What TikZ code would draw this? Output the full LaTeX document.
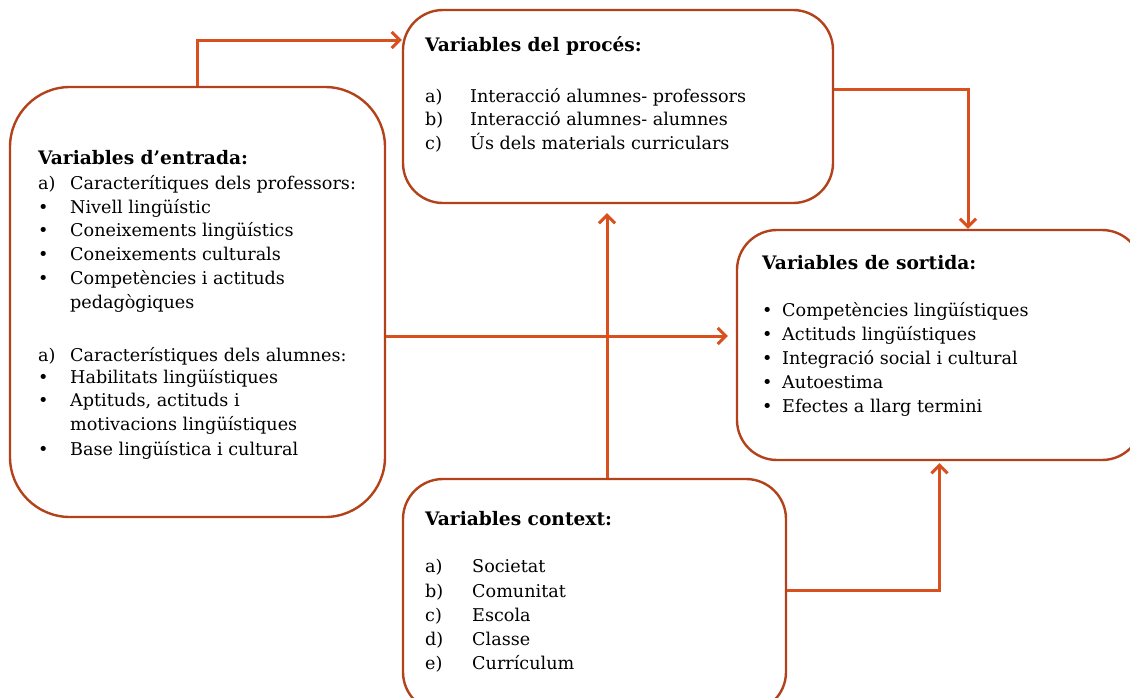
\documentclass[tikz,border=0pt]{standalone}
\usepackage{fontspec}
\setmainfont{DejaVu Serif}
\usetikzlibrary{arrows.meta}
\definecolor{linec}{HTML}{D9501E}
\definecolor{boxc}{HTML}{B3421A}
\begin{document}
\begin{tikzpicture}[x=1pt,y=-1pt,
  box/.style={draw=boxc,line width=2.4pt,rounded corners=#1,inner sep=0pt},
  arr/.style={draw=linec,line width=3pt,-{Straight Barb[length=8pt,width=16pt]}},
  txt/.style={anchor=base west,inner sep=0pt,font=\fontsize{17.6}{20}\selectfont},
  ttl/.style={anchor=base west,inner sep=0pt,font=\fontsize{18.6}{20}\selectfont\bfseries}]
\useasboundingbox (0,0) rectangle (1130,697);
\begin{scope}
\clip (0,0) rectangle (1130,697);
% boxes
\node[box=60pt,minimum width=375pt,minimum height=430pt] (E) at (197.5,302) {};
\node[box=40pt,minimum width=430pt,minimum height=193pt] (P) at (618,106.5) {};
\node[box=40pt,minimum width=405pt,minimum height=230pt] (S) at (939.5,345) {};
\node[box=40pt,minimum width=383pt,minimum height=233pt] (C) at (594.5,595.5) {};
\end{scope}
% connectors
\coordinate (e3) at ([yshift=-34pt]E.east);
\coordinate (c4) at ([xshift=12.5pt]C.north);
\coordinate (c5) at ([yshift=5.5pt]C.east);
\draw[arr] (E.north) |- ([yshift=66.5pt]P.west);
\draw[arr] ([yshift=17.5pt]P.east) -| ([xshift=28.5pt]S.north);
\draw[arr,shorten >=8pt] (e3) -- (e3 -| S.west);
\draw[arr,shorten >=9pt] (c4) -- (c4 |- P.south);
\draw[arr,shorten >=2pt] (c5) -| (S.south);
% entrada text
\node[ttl] (et) at (38,164) {Variables d’entrada:};
\foreach \n/\y/\l/\t in {1/189/a)/Caracterítiques dels professors:,
  2/213/•/Nivell lingüístic, 3/236/•/Coneixements lingüístics,
  4/260/•/Coneixements culturals, 5/284/•/Competències i actituds,
  6/308//pedagògiques, 7/361/a)/Característiques dels alumnes:,
  8/383/•/Habilitats lingüístiques, 9/406/•/Aptituds{,} actituds i,
  10/430//motivacions lingüístiques, 11/455/•/Base lingüística i cultural}{
  \node[txt] (el\n) at (38,\y) {\l};
  \node[txt] (et\n) at (70,\y) {\t};
}
% proces text
\node[ttl] (pt) at (425,51) {Variables del procés:};
\foreach \n/\y/\l/\t in {1/102/a)/Interacció alumnes- professors,
  2/125/b)/Interacció alumnes- alumnes, 3/149/c)/Ús dels materials curriculars}{
  \node[txt] (pl\n) at (425,\y) {\l};
  \node[txt] (pt\n) at (470,\y) {\t};
}
% sortida text
\node[ttl] (st) at (762,269) {Variables de sortida:};
\foreach \n/\y/\t in {1/316/Competències lingüístiques, 2/340/Actituds lingüístiques,
  3/364/Integració social i cultural, 4/388/Autoestima, 5/412/Efectes a llarg termini}{
  \node[txt] (sl\n) at (762,\y) {•};
  \node[txt] (st\n) at (782,\y) {\t};
}
% context text
\node[ttl] (ct) at (425,525) {Variables context:};
\foreach \n/\y/\l/\t in {1/572/a)/Societat, 2/597/b)/Comunitat, 3/621/c)/Escola,
  4/645/d)/Classe, 5/669/e)/Currículum}{
  \node[txt] (cl\n) at (425,\y) {\l};
  \node[txt] (ct\n) at (472,\y) {\t};
}
\end{tikzpicture}
\end{document}
